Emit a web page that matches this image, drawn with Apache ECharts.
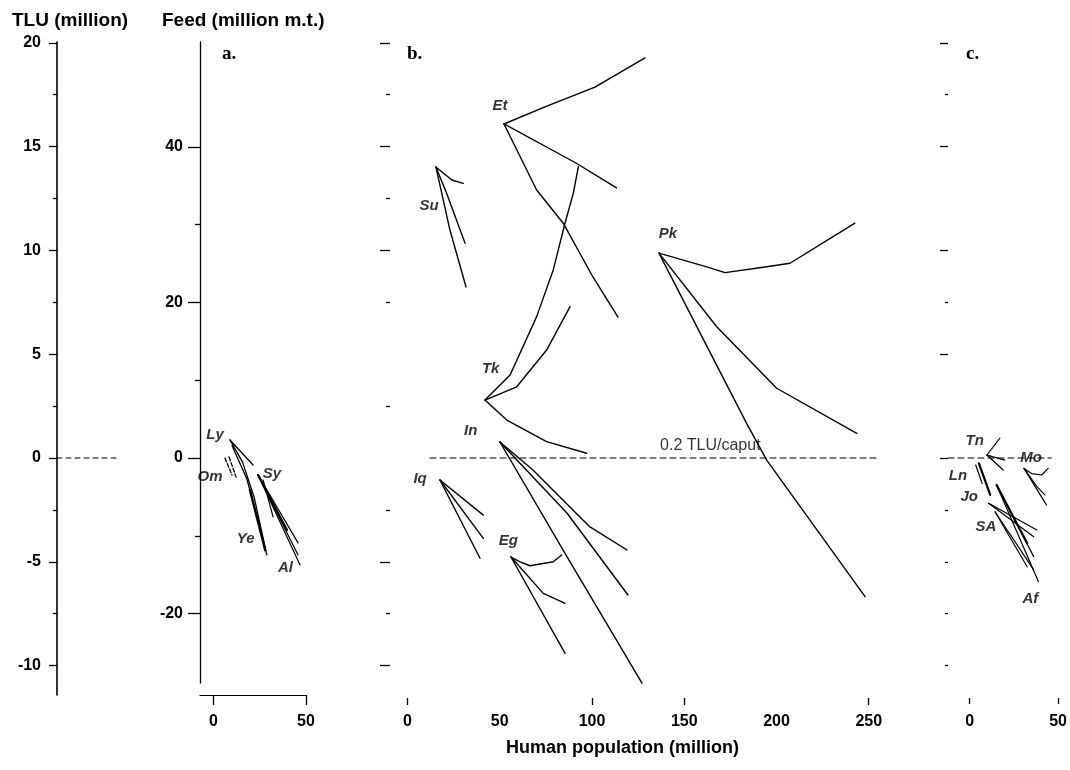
<!DOCTYPE html>
<html><head><meta charset="utf-8">
<script src="https://cdn.jsdelivr.net/npm/echarts@6/dist/echarts.min.js"></script>
<style>html,body{margin:0;padding:0;background:#fff}#c{width:1070px;height:770px}</style>
</head><body><div id="c"></div>
<script>
// ---------------- DATA (x = human population, million; y = TLU surplus, million) ----------------
// Panel a
const a_Ly = [
  [[8.9,0.87],[21.4,-0.34]],
  [[8.9,0.87],[15.7,-0.20],[22.0,-1.90],[28.8,-4.67]],
  [[10.0,0.60],[18.0,-1.00],[27.8,-4.27]]
];
const a_Om = [
  [[6.2,0.00],[10.0,-0.82]],
  [[8.4,0.05],[12.2,-0.92]]
];
const a_Ye = [
  [[19.7,-1.54],[28.0,-4.45]]
];
const a_Sy = [
  [[24.1,-0.82],[39.7,-3.47]],
  [[24.1,-0.82],[45.7,-4.09]],
  [[24.1,-0.82],[45.7,-4.67]],
  [[24.1,-0.82],[46.8,-5.15]],
  [[26.8,-1.06],[32.2,-2.84]]
];
// Panel b
const b_Et = [
  [[52.3,16.09],[74.5,16.91],[101.6,17.87],[128.7,19.27]],
  [[52.3,16.09],[91.3,14.21],[113.3,13.01]],
  [[52.3,16.09],[70.0,12.91],[84.4,11.31],[100.5,8.72],[114.1,6.79]]
];
const b_Su = [
  [[15.4,14.02],[24.0,13.39],[30.2,13.23]],
  [[15.4,14.02],[21.2,12.75],[31.2,10.34]],
  [[15.4,14.02],[23.0,10.98],[31.7,8.25]]
];
const b_Tk = [
  [[42.0,2.79],[55.6,4.00],[70.0,6.81],[79.0,9.06],[85.4,11.32],[89.9,12.76],[92.6,14.03]],
  [[42.0,2.79],[59.2,3.43],[75.4,5.20],[88.1,7.29]],
  [[42.0,2.79],[53.8,1.83],[75.4,0.79],[97.1,0.23]]
];
const b_In = [
  [[50.1,0.77],[68.0,-0.58],[98.9,-3.32],[119.0,-4.43]],
  [[50.1,0.77],[86.4,-2.65],[119.5,-6.60]],
  [[50.1,0.77],[85.3,-4.58],[127.1,-10.84]]
];
const b_Iq = [
  [[17.6,-1.06],[41.1,-2.75]],
  [[17.6,-1.06],[41.1,-3.87]],
  [[17.6,-1.06],[39.3,-4.83]]
];
const b_Eg = [
  [[56.1,-4.77],[61.0,-5.00],[66.4,-5.19],[79.0,-5.00],[83.6,-4.67]],
  [[56.1,-4.77],[73.6,-6.52],[85.4,-7.00]],
  [[56.1,-4.77],[85.4,-9.41]]
];
const b_Pk = [
  [[136.3,9.87],[162.2,9.21],[172.1,8.93],[194.7,9.21],[207.3,9.38],[242.5,11.31]],
  [[136.3,9.87],[167.6,6.32],[200.1,3.36],[243.5,1.19]],
  [[136.3,9.87],[183.8,1.67],[194.7,-0.10],[248.0,-6.68]]
];
const b_ref = [[12.2,0],[256.1,0]];     // 0.2 TLU/caput line
// Panel c
const c_Tn = [
  [[9.7,0.14],[19.8,-0.10]],
  [[9.7,0.14],[18.9,-0.58]]
];
const c_TnDot = [[9.7,0.14],[17.0,0.95]];
const c_Ln = [
  [[5.2,-0.26],[11.6,-1.78]],
  [[3.4,-0.34],[7.0,-1.22]]
];
const c_Jo = [
  [[10.7,-2.18],[38.0,-3.47]],
  [[10.7,-2.18],[36.2,-3.79]]
];
const c_Af = [
  [[15.2,-1.30],[32.5,-4.11]],
  [[15.2,-1.30],[36.2,-4.75]],
  [[15.2,-1.30],[38.9,-5.96]]
];
const c_SA = [
  [[14.3,-2.59],[32.5,-5.24]],
  [[14.3,-2.59],[36.2,-5.39]]
];
const c_Mo = [
  [[30.7,-0.50],[35.0,-0.75],[40.7,-0.82],[44.4,-0.50]],
  [[30.7,-0.50],[38.0,-1.38],[42.5,-1.78]],
  [[30.7,-0.50],[43.4,-2.26]]
];
const c_ref = [[-12.3,0],[46.2,0]];
const tlu_ref = [[0,0],[1,0]];

// labels: [text, x, y]
const labelsA = [['Ly',0.8,1.11],['Om',-1.9,-0.92],['Sy',31.6,-0.77],['Ye',17.4,-3.90],['Al',38.9,-5.30]];
const labelsB = [['Et',50.1,16.96],['Su',11.7,12.14],['Tk',45.1,4.29],['Pk',141.2,10.79],['In',34.3,1.32],['Iq',6.8,-1.01],['Eg',54.6,-3.98]];
const captionB = [['0.2 TLU/caput',136.9,0.58]];
const labelsC = [['Tn',2.8,0.83],['Mo',34.7,0.03],['Ln',-6.7,-0.85],['Jo',-0.3,-1.89],['SA',9.2,-3.34],['Af',34.3,-6.79]];

// tick values
const tluTicks = [20,15,10,5,0,-5,-10];
const tluMinor = [17.5,12.5,7.5,2.5,-2.5,-7.5];
const feedTicks = [40,20,0,-20];
const feedMinor = [30,10,-10];
const bTicksMajor = [20,15,10,-5,-10];
const bTicksMinor = [17.5,12.5,7.5,2.5,-2.5,-7.5];
const cTicksMajor = [20,15,10,5,0];
const cTicksMinor = [17.5,7.5,-2.5,-5,-7.5,-10];
const aXLabels = [0,50];
const bXLabels = [0,50,100,150,200,250];
const bXTicks = [0,100,150,250];
const cXLabels = [0,50];

// ---------------- CHART ----------------
const FONT = '"Liberation Sans", Arial, Helvetica, sans-serif';
const SERIF = '"Liberation Serif", "Times New Roman", serif';
const chart = echarts.init(document.getElementById('c'), null, {renderer:'canvas'});

// axis ranges (layout)
const DATA_Y = {min:-11.416, max:20.617};
const TLU_Y = {min:-11.416, max:20.039};
const FEED_Y = {min:-28.920, max:53.470};

function yAx(grid, rng, o) {
  return {
    type:'value', gridIndex:grid, min:rng.min, max:rng.max, position:'left',
    splitLine:{show:false},
    axisLine:{show:!!o.line, onZero:false, lineStyle:{color:'#000', width:o.lw||1.2}},
    axisTick:{show:!!o.ticks, customValues:o.ticks, length:o.tl||6, inside:false, lineStyle:{color:'#000', width:1.3}},
    axisLabel:{show:!!o.labels, customValues:o.labels, margin:o.margin||10, color:'#000', fontSize:16, fontWeight:'bold', fontFamily:FONT, showMinLabel:true, showMaxLabel:true},
    minorTick:{show:false}
  };
}
function xAx(grid, min, max, o) {
  return {
    type:'value', gridIndex:grid, min:min, max:max, position:'bottom', offset:o.offset||0,
    show: o.show !== false,
    splitLine:{show:false},
    axisLine:{show:!!o.line, onZero:false, lineStyle:{color:'#000', width:1.2}},
    axisTick:{show:!!o.ticks, customValues:o.ticks, length:o.tl||8, lineStyle:{color:'#000', width:1.3}},
    axisLabel:{show:!!o.labels, customValues:o.labels, margin:o.margin||17, color:'#000', fontSize:16, fontWeight:'bold', fontFamily:FONT, showMinLabel:true, showMaxLabel:true, hideOverlap:false}
  };
}

const grids = [
  {left:57, top:42, width:61, height:653, containLabel:false},   // 0 TLU axis
  {left:200, top:42, width:10, height:641, containLabel:false},  // 1 feed axis
  {left:200, top:30, width:106, height:665, containLabel:false}, // 2 panel a
  {left:390, top:30, width:495, height:665, containLabel:false}, // 3 panel b
  {left:948, top:30, width:122, height:665, containLabel:false}  // 4 panel c
];

const xAxes = [
  xAx(0, 0, 1, {show:false}),
  xAx(1, 0, 1, {show:false}),
  xAx(2, -7.297, 50, {line:true, ticks:aXLabels, labels:aXLabels, tl:10, margin:19}),
  xAx(3, -9.485, 258.81, {line:false, offset:3, ticks:bXTicks, labels:bXLabels, tl:7, margin:16}),
  xAx(4, -12.295, 54.37, {line:false, offset:3, ticks:cXLabels, labels:cXLabels, tl:6, margin:16})
];

const yAxes = [
  yAx(0, TLU_Y, {line:true, lw:1.6, ticks:tluTicks, tl:8, labels:tluTicks, margin:16}), //0
  yAx(0, TLU_Y, {ticks:tluMinor, tl:4}),                                                //1
  yAx(1, FEED_Y, {line:true, lw:1.3, ticks:feedTicks, tl:12, labels:feedTicks, margin:17}), //2
  yAx(1, FEED_Y, {ticks:feedMinor, tl:5}),                                              //3
  yAx(2, DATA_Y, {}),                                                                   //4
  yAx(3, DATA_Y, {ticks:bTicksMajor, tl:10}),                                           //5
  yAx(3, DATA_Y, {ticks:bTicksMinor, tl:4}),                                            //6
  yAx(4, DATA_Y, {ticks:cTicksMajor, tl:8}),                                            //7
  yAx(4, DATA_Y, {ticks:cTicksMinor, tl:3})                                             //8
];

const series = [];
function addPaths(paths, xi, yi, width, type) {
  paths.forEach(p => series.push({
    type:'line', xAxisIndex:xi, yAxisIndex:yi, data:p, symbol:'none', silent:true,
    animation:false, clip:false, smooth:false,
    lineStyle:{color:'#000', width:width||1.3, type:type||'solid', cap:'round', join:'round'}
  }));
}
function addLabels(lbls, xi, yi, opt) {
  series.push({
    type:'scatter', xAxisIndex:xi, yAxisIndex:yi, symbolSize:1, silent:true, animation:false, clip:false,
    itemStyle:{color:'rgba(0,0,0,0)'},
    data: lbls.map(d => ({name:d[0], value:[d[1], d[2]]})),
    label:Object.assign({show:true, position:'inside', formatter:'{b}', color:'#000',
      fontStyle:'italic', fontWeight:'bold', fontSize:15, fontFamily:FONT}, opt||{})
  });
}

// TLU reference dash
addPaths([tlu_ref], 0, 0, 1.1, [5,4]);
// panel a
addPaths(a_Ly, 2, 4, 1.3);
addPaths(a_Om, 2, 4, 1.3, [4,2]);
addPaths(a_Ye, 2, 4, 2.4);
addPaths(a_Sy.slice(0,1), 2, 4, 2.2);
addPaths(a_Sy.slice(1), 2, 4, 1.2);
addLabels(labelsA, 2, 4);
// panel b
addPaths([b_ref], 3, 5, 1.1, [6,4]);
addPaths(b_Et, 3, 5, 1.4);
addPaths(b_Su, 3, 5, 1.4);
addPaths(b_Tk, 3, 5, 1.4);
addPaths(b_In, 3, 5, 1.4);
addPaths(b_Iq, 3, 5, 1.4);
addPaths(b_Eg, 3, 5, 1.4);
addPaths(b_Pk, 3, 5, 1.4);
addLabels(labelsB, 3, 5);
addLabels(captionB, 3, 5, {fontStyle:'normal', fontWeight:'normal', fontSize:16, align:'left'});
// panel c
addPaths([c_ref], 4, 7, 1.1, [6,4]);
addPaths(c_Tn, 4, 7, 1.3);
addPaths([c_TnDot], 4, 7, 1.3, 'dotted');
addPaths(c_Ln.slice(0,1), 4, 7, 2.2);
addPaths(c_Ln.slice(1), 4, 7, 1.2);
addPaths(c_Jo, 4, 7, 1.2);
addPaths(c_Af.slice(0,1), 4, 7, 2.2);
addPaths(c_Af.slice(1), 4, 7, 1.2);
addPaths(c_SA, 4, 7, 1.2);
addPaths(c_Mo, 4, 7, 1.2);
addLabels(labelsC, 4, 7);

const graphic = [
  {type:'text', left:12, top:11, style:{text:'TLU (million)', font:'bold 19px ' + FONT, fill:'#000'}},
  {type:'text', left:162, top:11, style:{text:'Feed (million m.t.)', font:'bold 19px ' + FONT, fill:'#000'}},
  {type:'text', left:222, top:45, style:{text:'a.', font:'bold 19px ' + SERIF, fill:'#000'}},
  {type:'text', left:407, top:45, style:{text:'b.', font:'bold 19px ' + SERIF, fill:'#000'}},
  {type:'text', left:966, top:45, style:{text:'c.', font:'bold 19px ' + SERIF, fill:'#000'}},
  {type:'text', left:506, top:739, style:{text:'Human population (million)', font:'bold 18px ' + FONT, fill:'#000'}}
];

chart.setOption({
  backgroundColor:'#fff',
  animation:false,
  grid:grids, xAxis:xAxes, yAxis:yAxes, series:series, graphic:graphic
});
</script></body></html>
